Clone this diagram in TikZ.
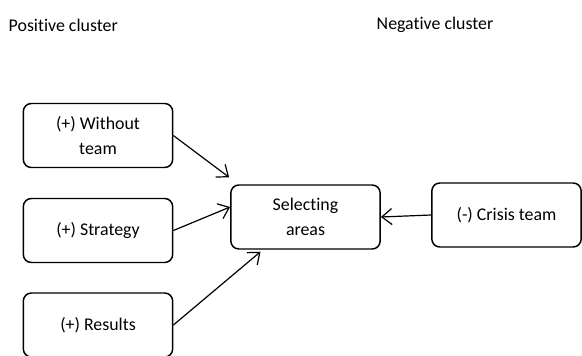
\documentclass[tikz,border=0pt]{standalone}
\usepackage{fontspec}
\setmainfont[Ligatures=NoCommon]{Carlito}
\usetikzlibrary{arrows.meta}

\begin{document}
\begin{tikzpicture}[x=0.75pt,y=-0.75pt,
        font=\fontsize{13.4}{19}\selectfont,
        box/.style={draw,line width=1.1pt,rounded corners=6pt,align=center,
                    minimum width=112pt,minimum height=48pt,inner sep=2pt},
        link/.style={-{Straight Barb[length=7.5pt,width=12pt]},line width=0.9pt}]
        \useasboundingbox (0,0) rectangle (582,356);

        % Cluster
        \node[anchor=west] (pos) at (4,25) {Positive cluster};
        \node[anchor=west] (neg) at (372,25) {Negative cluster};

        % Boxen
        \node[box] (without) at (98,135.5) {(+) Without\\team};
        \node[box] (strategy) at (98,230.5) {(+) Strategy};
        \node[box] (results) at (98,325) {(+) Results};
        \node[box] (selecting) at (305.5,217) {Selecting\\areas};
        \node[box] (crisis) at (506.5,215) {(-) Crisis team};

        % Pfeile
        \draw[link] (without.east) -- ([shift={(-1,-7)}]selecting.north west);
        \draw[link] (strategy.east) -- ([shift={(0,-10)}]selecting.west);
        \draw[link] (results.east) -- ([shift={(-45,2)}]selecting.south);
        \draw[link] (crisis.west) -- (selecting.east);
    \end{tikzpicture}
\end{document}
